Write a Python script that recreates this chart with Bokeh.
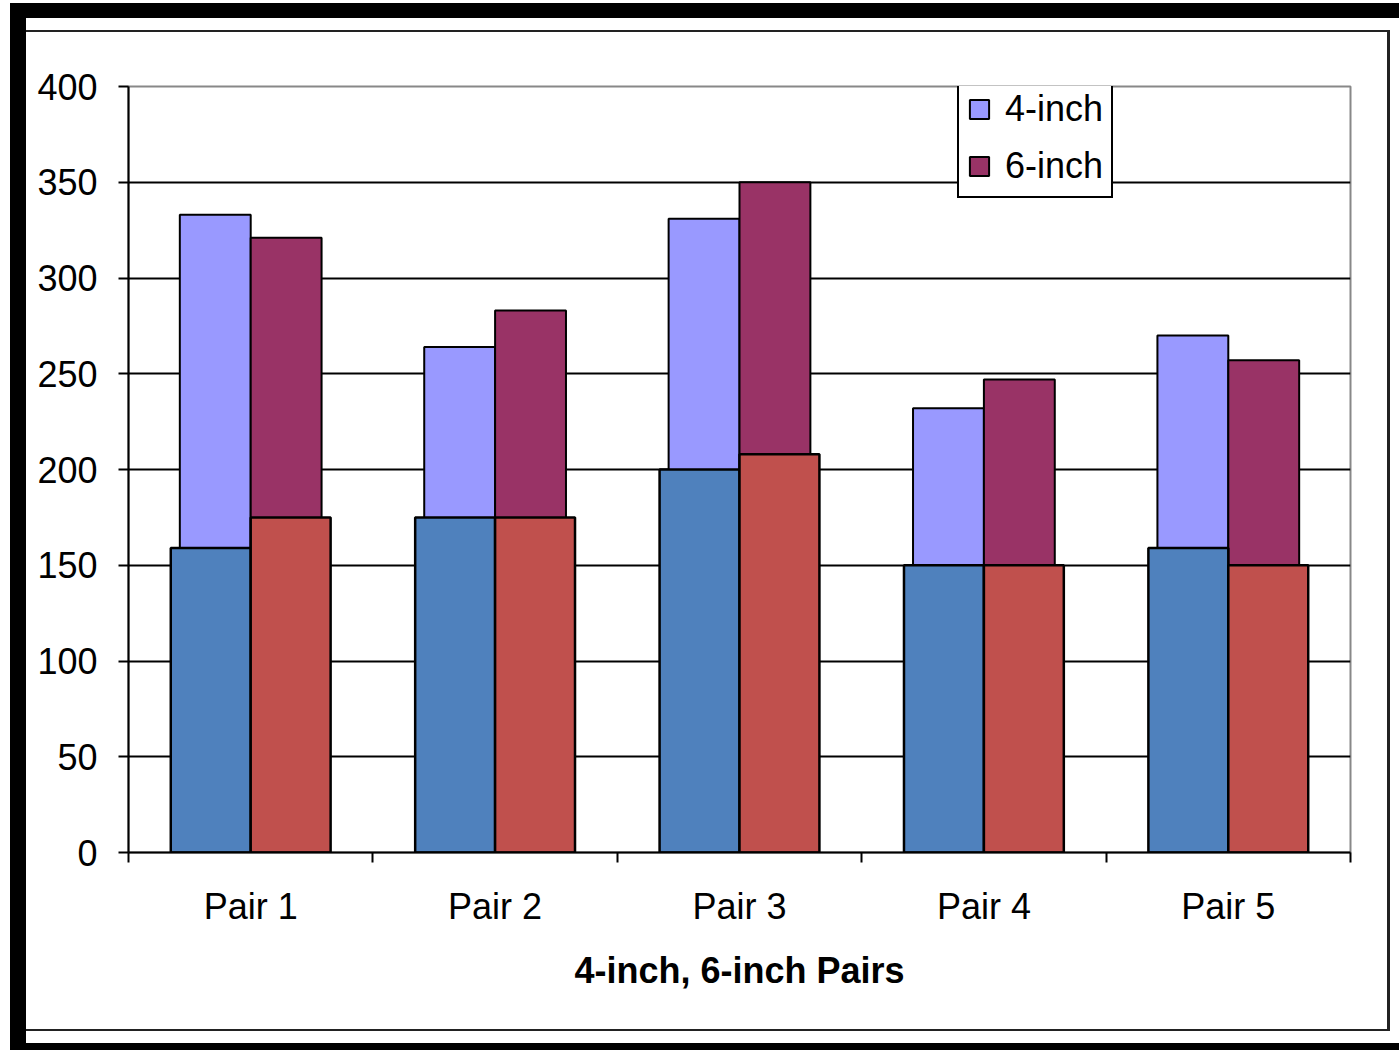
from bokeh.plotting import figure
from bokeh.models import Range1d, FixedTicker, Div, Spacer, ColumnDataSource
from bokeh.layouts import row, column
from bokeh.transform import dodge
from bokeh.embed import file_html
from bokeh.resources import INLINE

# ---- data ----
pairs = ["Pair 1", "Pair 2", "Pair 3", "Pair 4", "Pair 5"]
four_total = [333, 264, 331, 232, 270]
six_total = [321, 283, 350, 247, 257]
four_low = [159, 175, 200, 150, 159]
six_low = [175, 175, 208, 150, 150]
y_ticks = [0, 50, 100, 150, 200, 250, 300, 350, 400]
x_title = "4-inch, 6-inch Pairs"

FONT = "Liberation Sans"

centers = [i + 0.5 for i in range(len(pairs))]
src = ColumnDataSource(dict(
    center=centers,
    four_total=four_total,
    six_total=six_total,
    four_low=four_low,
    six_low=six_low,
))

p = figure(width=1361, height=997,
           x_range=Range1d(0, len(pairs)), y_range=Range1d(0, 400),
           output_backend="svg", toolbar_location=None,
           min_border_left=102, min_border_right=37,
           min_border_top=54, min_border_bottom=177,
           x_axis_label=x_title)

BACK_W = 0.29
FRONT_W = 0.327

# back (total) bars
p.vbar(x=dodge("center", -BACK_W / 2), top="four_total", width=BACK_W, source=src,
       fill_color="#9999FF", line_color="black", line_width=2, legend_label="4-inch")
p.vbar(x=dodge("center", BACK_W / 2), top="six_total", width=BACK_W, source=src,
       fill_color="#993366", line_color="black", line_width=2, legend_label="6-inch")
# front (lower) bars
p.vbar(x=dodge("center", -FRONT_W / 2), top="four_low", width=FRONT_W, source=src,
       fill_color="#4F81BD", line_color="black", line_width=2.5)
p.vbar(x=dodge("center", FRONT_W / 2), top="six_low", width=FRONT_W, source=src,
       fill_color="#C0504D", line_color="black", line_width=2.5)

# axes
xa = p.xaxis[0]
xa.ticker = FixedTicker(ticks=centers, minor_ticks=list(range(len(pairs) + 1)))
xa.major_label_overrides = {c: name for c, name in zip(centers, pairs)}
xa.major_tick_line_color = None
xa.major_tick_out = 0
xa.major_tick_in = 0
xa.minor_tick_line_color = "black"
xa.minor_tick_line_width = 2
xa.minor_tick_out = 10
xa.minor_tick_in = 0
xa.axis_line_color = "black"
xa.axis_line_width = 2
xa.major_label_text_font = FONT
xa.major_label_text_font_size = "36px"
xa.major_label_text_color = "black"
xa.major_label_standoff = 23
xa.axis_label_text_font = FONT
xa.axis_label_text_font_size = "36px"
xa.axis_label_text_font_style = "bold"
xa.axis_label_text_color = "black"
xa.axis_label_standoff = 20

ya = p.yaxis[0]
ya.ticker = FixedTicker(ticks=y_ticks, minor_ticks=[])
ya.major_tick_line_color = "black"
ya.major_tick_line_width = 2
ya.major_tick_out = 10
ya.major_tick_in = 0
ya.axis_line_color = "black"
ya.axis_line_width = 2
ya.major_label_text_font = FONT
ya.major_label_text_font_size = "36px"
ya.major_label_text_color = "black"
ya.major_label_standoff = 21

p.xgrid.visible = False
p.ygrid.ticker = FixedTicker(ticks=y_ticks[1:-1])
p.ygrid.grid_line_color = "black"
p.ygrid.grid_line_width = 2

p.outline_line_color = "#888888"
p.outline_line_width = 2
p.background_fill_color = "white"
p.border_fill_color = "white"

lg = p.legend[0]
lg.location = (829, 654)
lg.margin = 0
lg.padding = 8
lg.spacing = 13
lg.label_height = 44
lg.glyph_width = 24
lg.glyph_height = 24
lg.label_standoff = 14
lg.label_text_font = FONT
lg.label_text_font_size = "36px"
lg.label_text_color = "black"
lg.border_line_color = "black"
lg.border_line_alpha = 1.0
lg.border_line_width = 2
lg.background_fill_color = "white"
lg.background_fill_alpha = 1.0

BLACK = {"background-color": "black"}
LINE = {"background-color": "#222222"}

left_pad = Spacer(width=10, height=1047, margin=0)
left_band = Div(text="", width=16, height=1047, margin=0, styles=BLACK)
top_white = Spacer(width=1399, height=3, margin=0)
top_band = Div(text="", width=1373, height=15, margin=0, styles=BLACK)
gap_top = Spacer(width=1373, height=12, margin=0)
top_line = Div(text="", width=1361, height=2, margin=0, styles=LINE)
bottom_line = Div(text="", width=1361, height=2, margin=0, styles=LINE)
right_line = Div(text="", width=3, height=1001, margin=0, styles=LINE)
right_pad = Spacer(width=9, height=1001, margin=0)
gap_bottom = Spacer(width=1373, height=12, margin=0)
bottom_band = Div(text="", width=1373, height=7, margin=0, styles=BLACK)

inner = row(column(top_line, p, bottom_line, spacing=0), right_line, right_pad, spacing=0)
right_part = column(top_band, gap_top, inner, gap_bottom, bottom_band, spacing=0)
layout = column(top_white, row(left_pad, left_band, right_part, spacing=0), spacing=0)

open("out.html", "w").write(file_html(layout, INLINE))
